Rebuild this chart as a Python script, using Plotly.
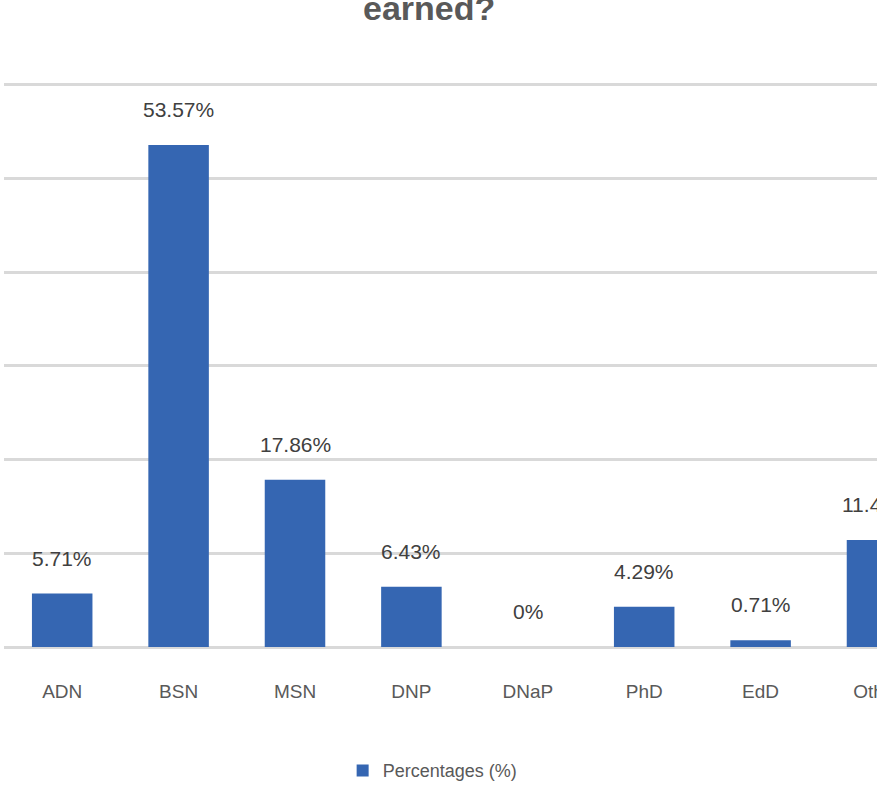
import plotly.graph_objects as go

categories = ["ADN", "BSN", "MSN", "DNP", "DNaP", "PhD", "EdD", "Other"]
percentages = [5.71, 53.57, 17.86, 6.43, 0, 4.29, 0.71, 11.43]
series_name = "Percentages (%)"
title_visible = "earned?"

FONT = "Liberation Sans, Arial, sans-serif"

fig = go.Figure()
fig.add_trace(go.Bar(
    x=categories,
    y=percentages,
    name=series_name,
    width=0.52,
    marker=dict(color="#3566B2", line=dict(color="#2A5597", width=0)),
    showlegend=True,
))

annotations = []
for c, v in zip(categories, percentages):
    annotations.append(dict(
        x=c, y=v, xref="x", yref="y",
        text=f"{v:g}%", showarrow=False,
        yanchor="bottom", yshift=22,
        font=dict(family=FONT, size=21, color="#404040"),
    ))
annotations.append(dict(
    x=0.487, y=1.094, xref="paper", yref="paper",
    text=f"<b>{title_visible}</b>", showarrow=False,
    xanchor="center", yanchor="bottom",
    font=dict(family=FONT, size=34, color="#595959"),
))

fig.update_layout(
    width=877, height=796,
    margin=dict(l=4, r=0, t=82, b=149, autoexpand=False),
    paper_bgcolor="white",
    plot_bgcolor="white",
    annotations=annotations,
    legend=dict(
        orientation="h", x=0.491, xanchor="center", y=-0.219, yanchor="middle",
        font=dict(family=FONT, size=18, color="#595959"),
    ),
    xaxis=dict(
        range=[-0.5, 7.0],
        automargin=False,
        showgrid=False,
        ticks="outside", ticklen=27, tickcolor="rgba(0,0,0,0)",
        tickfont=dict(family=FONT, size=19, color="#595959"),
        showline=False,
        zeroline=False,
    ),
    yaxis=dict(
        range=[0, 60.3],
        automargin=False,
        dtick=10,
        showgrid=True, gridcolor="#D9D9D9", gridwidth=2.5,
        showticklabels=False,
        zeroline=True, zerolinecolor="#D9D9D9", zerolinewidth=3,
        showline=False,
    ),
)

fig.write_html(
    "out.html",
    config={"displayModeBar": False},
    post_script="document.body.style.margin='0';document.body.style.overflow='hidden';",
)
